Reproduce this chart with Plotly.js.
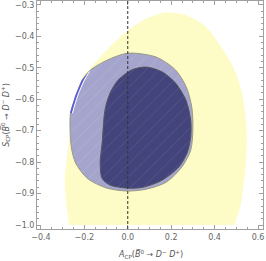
<!DOCTYPE html>
<html><head><meta charset="utf-8">
<script src="https://cdn.plot.ly/plotly-3.0.1.min.js"></script>
<style>body{margin:0;padding:0;background:#fff}#plot{width:266px;height:261px}</style>
</head><body><div id="plot"></div>
<script>
// Contour boundaries (A_CP, S_CP)
const yellowX = [0.168, 0.27, 0.36, 0.43, 0.486, 0.523, 0.545, 0.548, 0.545, 0.532, 0.518, 0.50, 0.495, 0.49, 0.48, -0.26, -0.27, -0.272, -0.286, -0.29, -0.278, -0.264, -0.245, -0.21, -0.18, -0.127, -0.05, 0.023, 0.10, 0.168];
const yellowY = [-0.325, -0.333, -0.37, -0.434, -0.498, -0.571, -0.667, -0.73, -0.80, -0.88, -0.943, -0.98, -0.995, -1.0, -1.0, -1.0, -1.0, -0.99, -0.912, -0.857, -0.772, -0.688, -0.60, -0.53, -0.508, -0.466, -0.412, -0.37, -0.34, -0.325];

const grayX = [0.0, 0.13, 0.22, 0.27, 0.295, 0.30, 0.29, 0.25, 0.177, 0.086, 0.0, -0.095, -0.186, -0.24, -0.26, -0.264, -0.24, -0.21, -0.173, -0.095, 0.0];
const grayY = [-0.454, -0.466, -0.507, -0.562, -0.625, -0.698, -0.762, -0.815, -0.864, -0.886, -0.892, -0.883, -0.852, -0.803, -0.752, -0.645, -0.593, -0.54, -0.508, -0.476, -0.454];

const darkX = [0.086, 0.16, 0.22, 0.268, 0.29, 0.29, 0.273, 0.236, 0.16, 0.07, 0.0, -0.082, -0.118, -0.127, -0.118, -0.105, -0.082, -0.045, 0.018, 0.086];
const darkY = [-0.498, -0.514, -0.549, -0.603, -0.667, -0.72, -0.772, -0.815, -0.857, -0.88, -0.883, -0.873, -0.852, -0.803, -0.74, -0.635, -0.581, -0.54, -0.507, -0.498];

const blueX = [-0.178, -0.212, -0.243, -0.266, -0.257, -0.233, -0.203, -0.178];
const blueY = [-0.512, -0.54, -0.59, -0.645, -0.645, -0.59, -0.54, -0.512];
const edgeX = [-0.176, -0.2, -0.231, -0.255];
const edgeY = [-0.512, -0.54, -0.59, -0.645];

const xTicks = [-0.4, -0.2, 0.0, 0.2, 0.4, 0.6];
const yTicks = [-1.0, -0.9, -0.8, -0.7, -0.6, -0.5, -0.4, -0.3];

const xTitle = '<i>A</i><sub>CP</sub>(<i>B\u0305</i><sup>0</sup> \u2192 <i>D</i><sup>\u2212</sup> <i>D</i><sup>+</sup>)';
const yTitle = '<i>S</i><sub>CP</sub>(<i>B\u0305</i><sup>0</sup> \u2192 <i>D</i><sup>\u2212</sup> <i>D</i><sup>+</sup>)';

const hatch = (bg, fg) => ({shape: '/', bgcolor: bg, fgcolor: fg, size: 9, solidity: 0.06, fillmode: 'replace'});

const traces = [
  {x: yellowX, y: yellowY, type: 'scatter', mode: 'lines', fill: 'toself',
   fillcolor: '#fdfcc6', line: {width: 0, color: '#fdfcc6', shape: 'spline', smoothing: 0.8}, hoverinfo: 'skip'},
  {x: grayX, y: grayY, type: 'scatter', mode: 'lines', fill: 'toself',
   fillcolor: '#a4a4cc', line: {width: 1, color: '#9a9a84', shape: 'spline', smoothing: 0.8},
   fillpattern: hatch('#a4a4cc', '#bebed8'), hoverinfo: 'skip'},
  {x: darkX, y: darkY, type: 'scatter', mode: 'lines', fill: 'toself',
   fillcolor: '#44447c', line: {width: 1, color: '#55555e', shape: 'spline', smoothing: 0.8},
   fillpattern: hatch('#44447c', '#626292'), hoverinfo: 'skip'},
  {x: blueX, y: blueY, type: 'scatter', mode: 'lines', fill: 'toself',
   fillcolor: '#5b5be0', line: {width: 0, color: '#5b5be0'}, hoverinfo: 'skip'},
  {x: edgeX, y: edgeY, type: 'scatter', mode: 'lines',
   line: {width: 1, color: '#ffffff', shape: 'spline'}, hoverinfo: 'skip'}
];

const tickFont = {family: 'DejaVu Sans, sans-serif', size: 8, color: '#666'};
const titleFont = {family: 'DejaVu Sans, sans-serif', size: 8, color: '#555'};

const layout = {
  width: 266, height: 261,
  margin: {l: 37, r: 3, t: 1, b: 32},
  paper_bgcolor: '#fff', plot_bgcolor: '#fff',
  showlegend: false,
  xaxis: {
    range: [-0.418, 0.623], showgrid: false, zeroline: false,
    showline: true, mirror: 'allticks', linecolor: '#a0a0a0', linewidth: 1,
    ticks: 'inside', ticklen: 4, tickcolor: '#a0a0a0',
    tickvals: xTicks, ticktext: xTicks.map(v => (v < 0 ? '\u2212' : '') + Math.abs(v).toFixed(1)),
    minor: {dtick: 0.05, tick0: 0, ticks: 'inside', ticklen: 2, tickcolor: '#a0a0a0'},
    tickfont: tickFont
  },
  yaxis: {
    range: [-1.0127, -0.288], showgrid: false, zeroline: false,
    showline: true, mirror: 'allticks', linecolor: '#a0a0a0', linewidth: 1,
    ticks: 'inside', ticklen: 4, tickcolor: '#a0a0a0',
    tickvals: yTicks, ticktext: yTicks.map(v => (v < 0 ? '\u2212' : '') + Math.abs(v).toFixed(1)),
    minor: {dtick: 0.02, tick0: 0, ticks: 'inside', ticklen: 2, tickcolor: '#a0a0a0'},
    tickfont: tickFont,
    title: {text: yTitle, font: titleFont, standoff: 4}
  },
  annotations: [
    {text: xTitle, xref: 'paper', yref: 'paper', x: 0.5, y: 0, xanchor: 'center', yanchor: 'middle',
     yshift: -25, showarrow: false, font: titleFont}
  ],
  shapes: [
    {type: 'line', xref: 'x', yref: 'paper', x0: 0, x1: 0, y0: 0, y1: 1,
     line: {color: '#333', width: 1, dash: '3px,2px'}}
  ]
};

Plotly.newPlot('plot', traces, layout, {staticPlot: true, displayModeBar: false});
</script></body></html>
